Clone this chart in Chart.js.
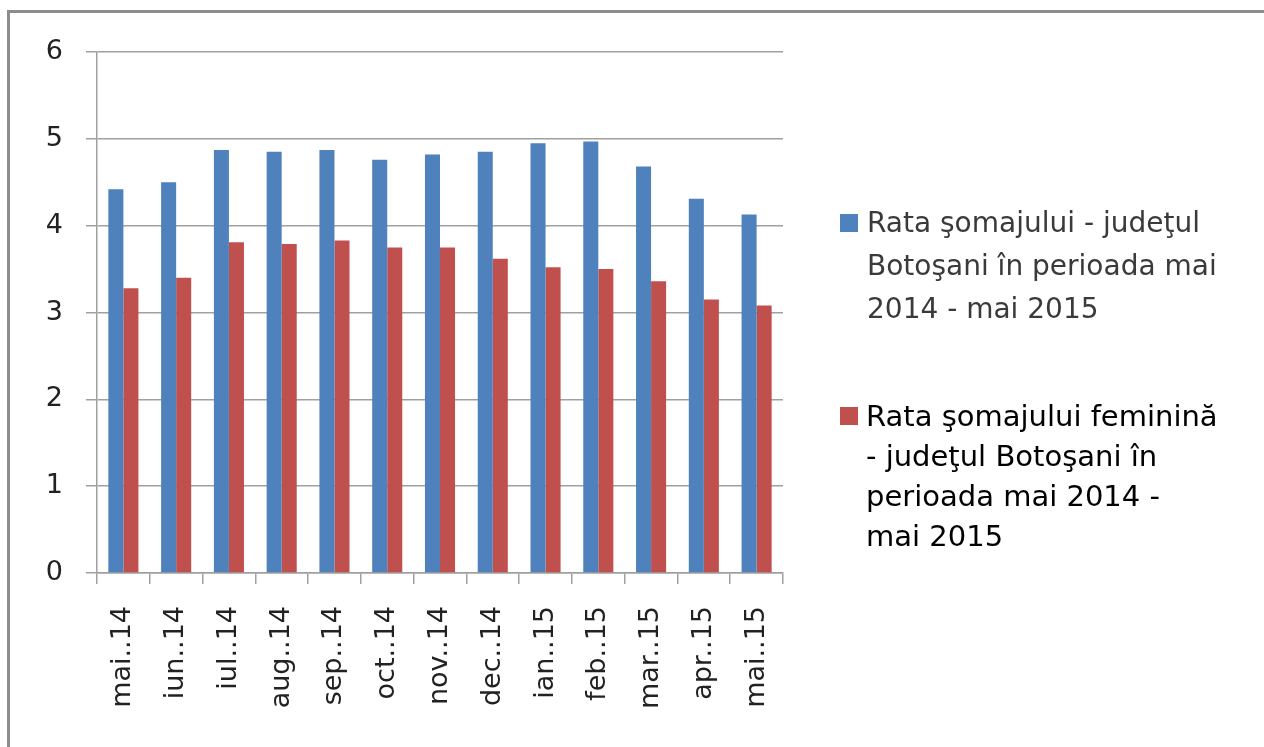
<!DOCTYPE html>
<html>
<head>
<meta charset="utf-8">
<script src="https://cdn.jsdelivr.net/npm/chart.js@4"></script>
<style>
  html, body { margin: 0; padding: 0; background: #fff; overflow: hidden; }
  #frame { position: absolute; left: 7px; top: 10px; width: 1400px; height: 900px;
           border-left: 3px solid #8c8c8c; border-top: 3px solid #8c8c8c; }
  #wrap { position: absolute; left: 0; top: 0; width: 1264px; height: 747px; }
</style>
</head>
<body>
<div id="frame"></div>
<div id="wrap"><canvas id="c"></canvas></div>
<script>
// luni (categorii)
var months = ["mai..14", "iun..14", "iul..14", "aug..14", "sep..14", "oct..14", "nov..14",
              "dec..14", "ian..15", "feb..15", "mar..15", "apr..15", "mai..15"];
// rata somajului total
var rataTotal = [4.42, 4.50, 4.87, 4.85, 4.87, 4.76, 4.82, 4.85, 4.95, 4.97, 4.68, 4.31, 4.13];
// rata somajului feminin
var rataFeminin = [3.28, 3.40, 3.81, 3.79, 3.83, 3.75, 3.75, 3.62, 3.52, 3.50, 3.36, 3.15, 3.08];
var yTicks = [0, 1, 2, 3, 4, 5, 6];
var legendTotal = ["Rata şomajului - judeţul", "Botoşani în perioada mai", "2014 - mai 2015"];
var legendFeminin = ["Rata şomajului feminină", "- judeţul Botoşani în", "perioada mai 2014 -", "mai 2015"];

var blue = '#4f81bd';
var red = '#c0504d';
var gridCol = '#a0a0a0';

// legenda desenata pe dreapta, cu text pe mai multe randuri
var sideLegend = {
    id: 'sideLegend',
    afterDraw: function (chart) {
        var ctx = chart.ctx;
        ctx.save();
        ctx.textBaseline = 'middle';
        ctx.textAlign = 'left';
        // prima serie
        ctx.fillStyle = blue;
        ctx.fillRect(840, 214, 18, 18);
        ctx.font = '28px "DejaVu Sans"';
        ctx.fillStyle = '#3a3a3a';
        legendTotal.forEach(function (t, i) { ctx.fillText(t, 867, 225 + i * 43); });
        // a doua serie
        ctx.fillStyle = red;
        ctx.fillRect(840, 407, 18, 18);
        ctx.font = '29px "DejaVu Sans"';
        ctx.fillStyle = '#000';
        legendFeminin.forEach(function (t, i) { ctx.fillText(t, 866, 418 + i * 40); });
        ctx.restore();
    }
};

var chart = new Chart(document.getElementById('c'), {
    type: 'bar',
    data: {
        labels: months,
        datasets: [{
            label: legendTotal.join(' '),
            data: rataTotal,
            backgroundColor: blue
        }, {
            label: legendFeminin.join(' '),
            data: rataFeminin,
            backgroundColor: red
        }]
    },
    options: {
        responsive: true,
        maintainAspectRatio: false,
        animation: false,
        layout: { padding: { left: 0, right: 481, top: 52, bottom: 0 } },
        datasets: { bar: { categoryPercentage: 0.57, barPercentage: 1.0 } },
        plugins: { legend: { display: false }, tooltip: { enabled: false } },
        scales: {
            x: {
                afterFit: function (s) { s.height = 174; },
                grid: { drawOnChartArea: false, drawTicks: true, tickLength: 11, color: gridCol, lineWidth: 1.5 },
                border: { color: gridCol, width: 1.5 },
                ticks: {
                    minRotation: 90, maxRotation: 90, autoSkip: false, padding: 22,
                    color: '#222', font: { family: 'DejaVu Sans', size: 27 }
                }
            },
            y: {
                min: 0, max: 6,
                afterFit: function (s) { s.width = 97; },
                afterBuildTicks: function (s) { s.ticks = yTicks.map(function (v) { return { value: v }; }); },
                grid: { color: gridCol, lineWidth: 1.5, drawTicks: true, tickLength: 11 },
                border: { color: gridCol, width: 1.5 },
                ticks: { padding: 23, color: '#222', font: { family: 'DejaVu Sans', size: 27 } }
            }
        }
    },
    plugins: [sideLegend]
});
</script>
</body>
</html>
